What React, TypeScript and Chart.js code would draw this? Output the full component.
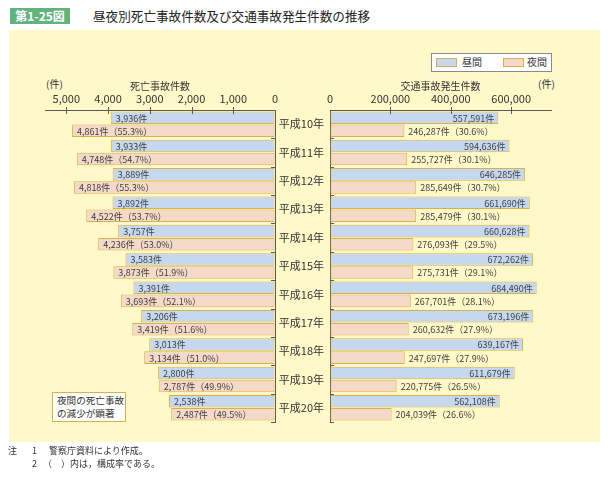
import React, { useEffect, useRef } from 'react';
import { Chart, registerables } from 'chart.js';

Chart.register(...registerables);

// ---- data ----
const years = ['平成10年', '平成11年', '平成12年', '平成13年', '平成14年', '平成15年', '平成16年', '平成17年', '平成18年', '平成19年', '平成20年'];
const deathDay = [3936, 3933, 3889, 3892, 3757, 3583, 3391, 3206, 3013, 2800, 2538];
const deathNight = [4861, 4748, 4818, 4522, 4236, 3873, 3693, 3419, 3134, 2787, 2487];
const deathNightPct = ['55.3', '54.7', '55.3', '53.7', '53.0', '51.9', '52.1', '51.6', '51.0', '49.9', '49.5'];
const accDay = [557591, 594636, 646285, 661690, 660628, 672262, 684490, 673196, 639167, 611679, 562108];
const accNight = [246287, 255727, 285649, 285479, 276093, 275731, 267701, 260632, 247697, 220775, 204039];
const accNightPct = ['30.6', '30.1', '30.7', '30.1', '29.5', '29.1', '28.1', '27.9', '27.9', '26.5', '26.6'];
const deathTicks = [0, 1000, 2000, 3000, 4000, 5000];
const accTicks = [0, 200000, 400000, 600000];
const seriesNames = ['昼間', '夜間'];

const FONT = "'Noto Sans CJK JP', 'Noto Sans', sans-serif";
const BLUE = '#C6D8F0';
const PINK = '#F5D9C9';
const GOLD = '#D8B14C';
const TEXT = '#333333';
const AXIS = '#5a5a5a';

const fmt = (n: number) => n.toLocaleString('en-US');

function makeLabelPlugin(side: 'left' | 'right', day: number[], night: number[], pct: string[]) {
  return {
    id: 'barLabels' + side,
    afterDatasetsDraw(chart: any) {
      const ctx = chart.ctx;
      ctx.save();
      ctx.font = `9px ${FONT}`;
      ctx.fillStyle = '#404040';
      ctx.textBaseline = 'middle';
      [0, 1].forEach((di) => {
        const meta = chart.getDatasetMeta(di);
        meta.data.forEach((el: any, i: number) => {
          const p = el.getProps(['x', 'y', 'base'], true);
          const lo = Math.min(p.x, p.base);
          const hi = Math.max(p.x, p.base);
          const text = di === 0 ? `${fmt(day[i])}件` : `${fmt(night[i])}件（${pct[i]}%）`;
          if (side === 'left') {
            ctx.textAlign = 'left';
            ctx.fillText(text, lo + 5, p.y + 0.5);
          } else if (di === 0) {
            ctx.textAlign = 'right';
            ctx.fillText(text, hi - 4, p.y + 0.5);
          } else {
            ctx.textAlign = 'left';
            ctx.fillText(text, hi + 4, p.y + 0.5);
          }
        });
      });
      ctx.restore();
    },
  };
}

function makeAxisDeco(side: 'left' | 'right') {
  return {
    id: 'axisDeco' + side,
    afterDraw(chart: any) {
      const { ctx, chartArea } = chart;
      const xs = chart.scales.x;
      const ys = chart.scales.y;
      ctx.save();
      ctx.strokeStyle = AXIS;
      ctx.lineWidth = 1;
      xs.ticks.forEach((t: any) => {
        if (t.value === 0) return;
        const px = Math.round(xs.getPixelForValue(t.value)) + 0.5;
        ctx.beginPath();
        ctx.moveTo(px, chartArea.top - 3);
        ctx.lineTo(px, chartArea.top + 4);
        ctx.stroke();
      });
      const n = years.length;
      for (let i = 1; i <= n; i++) {
        const py = Math.round(ys.getPixelForValue(i - 0.5)) + 0.5;
        ctx.beginPath();
        if (side === 'left') {
          ctx.moveTo(chartArea.right - 4, py);
          ctx.lineTo(chartArea.right, py);
        } else {
          ctx.moveTo(chartArea.left, py);
          ctx.lineTo(chartArea.left + 4, py);
        }
        ctx.stroke();
      }
      ctx.restore();
    },
  };
}

function datasets(day: number[], night: number[]) {
  const common = {
    borderColor: GOLD,
    borderWidth: 1,
    borderSkipped: false as any,
    categoryPercentage: 0.92,
    barPercentage: 0.96,
  };
  return [
    { label: seriesNames[0], data: day, backgroundColor: BLUE, ...common },
    { label: seriesNames[1], data: night, backgroundColor: PINK, ...common },
  ];
}

function xAxis(title: string, max: number, reverse: boolean, tickVals: number[]) {
  return {
    position: 'top',
    reverse,
    min: 0,
    max,
    afterFit: (s: any) => { s.height = 34; },
    afterBuildTicks: (s: any) => { s.ticks = tickVals.map((v) => ({ value: v })); },
    ticks: {
      includeBounds: false,
      padding: 5,
      color: TEXT,
      font: { family: FONT, size: 11 },
      callback: (v: any) => fmt(Number(v)),
    },
    grid: { display: true, drawOnChartArea: false, drawTicks: false },
    border: { display: true, color: AXIS, width: 1 },
    title: {
      display: true,
      text: title,
      color: TEXT,
      font: { family: FONT, size: 10 },
      padding: { top: 4, bottom: 0 },
    },
  };
}

function LeftChart() {
  const ref = useRef<HTMLCanvasElement>(null);
  useEffect(() => {
    const chart = new Chart(ref.current as HTMLCanvasElement, {
      type: 'bar',
      data: { labels: years, datasets: datasets(deathDay, deathNight) as any },
      options: {
        indexAxis: 'y',
        responsive: false,
        maintainAspectRatio: false,
        animation: false,
        layout: { padding: { left: 15, right: 10, top: 0, bottom: 34 } },
        plugins: { legend: { display: false }, tooltip: { enabled: false } },
        scales: {
          x: xAxis('死亡事故件数', 5510, true, deathTicks) as any,
          y: {
            position: 'right',
            afterFit: (s: any) => { s.width = 0; },
            ticks: { display: false },
            grid: { display: true, drawOnChartArea: false, drawTicks: false },
            border: { display: true, color: AXIS, width: 1 },
          } as any,
        },
      },
      plugins: [makeLabelPlugin('left', deathDay, deathNight, deathNightPct), makeAxisDeco('left')],
    });
    return () => chart.destroy();
  }, []);
  return <canvas ref={ref} width={255} height={380} style={{ position: 'absolute', left: 30, top: 76, width: 255, height: 380 }} />;
}

function RightChart() {
  const ref = useRef<HTMLCanvasElement>(null);
  useEffect(() => {
    const chart = new Chart(ref.current as HTMLCanvasElement, {
      type: 'bar',
      data: { labels: years, datasets: datasets(accDay, accNight) as any },
      options: {
        indexAxis: 'y',
        responsive: false,
        maintainAspectRatio: false,
        animation: false,
        layout: { padding: { left: 0, right: 27, top: 0, bottom: 34 } },
        plugins: { legend: { display: false }, tooltip: { enabled: false } },
        scales: {
          x: xAxis('交通事故発生件数', 732000, false, accTicks) as any,
          y: {
            position: 'left',
            afterFit: (s: any) => { s.width = 52; },
            ticks: { padding: 6, color: TEXT, font: { family: FONT, size: 11 } },
            grid: { display: true, drawOnChartArea: false, drawTicks: false },
            border: { display: true, color: AXIS, width: 1 },
          } as any,
        },
      },
      plugins: [makeLabelPlugin('right', accDay, accNight, accNightPct), makeAxisDeco('right')],
    });
    return () => chart.destroy();
  }, []);
  return <canvas ref={ref} width={300} height={380} style={{ position: 'absolute', left: 278, top: 76, width: 300, height: 380 }} />;
}

const abs = (s: React.CSSProperties): React.CSSProperties => ({ position: 'absolute', ...s });

export default function App() {
  return (
    <div style={abs({ left: 0, top: 0, width: 609, height: 479, background: '#fff', fontFamily: FONT, color: TEXT, overflow: 'hidden' })}>
      <div style={abs({ left: 10, top: 8, width: 60, height: 16, background: '#63B37F', color: '#fff', fontSize: 12, lineHeight: '16px', textAlign: 'center', fontWeight: 'bold' })}>第1-25図</div>
      <div style={abs({ left: 93, top: 7, fontSize: 12.6, lineHeight: '18px', color: '#222', whiteSpace: 'nowrap' })}>昼夜別死亡事故件数及び交通事故発生件数の推移</div>
      <div style={abs({ left: 9, top: 30, width: 591, height: 412, background: '#FFF9C9' })} />
      <div style={abs({ left: 431, top: 53, width: 119, height: 17, background: '#fff', border: '1px solid #8a8a8a' })}>
        <div style={abs({ left: 4, top: 4, width: 19, height: 7, background: BLUE, border: `1px solid ${GOLD}` })} />
        <div style={abs({ left: 30, top: 1, fontSize: 10, lineHeight: '14px', whiteSpace: 'nowrap' })}>{seriesNames[0]}</div>
        <div style={abs({ left: 71, top: 4, width: 19, height: 7, background: PINK, border: `1px solid ${GOLD}` })} />
        <div style={abs({ left: 95, top: 1, fontSize: 10, lineHeight: '14px', whiteSpace: 'nowrap' })}>{seriesNames[1]}</div>
      </div>
      <div style={abs({ left: 46, top: 77, fontSize: 10, lineHeight: '14px' })}>(件)</div>
      <div style={abs({ left: 538, top: 77, fontSize: 10, lineHeight: '14px' })}>(件)</div>
      <LeftChart />
      <RightChart />
      <div style={abs({ left: 52, top: 392, width: 68, height: 27, background: '#fff', border: `1px solid ${GOLD}`, padding: '1px 0 0 4px', fontSize: 9.6, lineHeight: '12.5px', whiteSpace: 'nowrap' })}>
        夜間の死亡事故<br />の減少が顕著
      </div>
      <div style={abs({ left: 8, top: 444, fontSize: 9, lineHeight: '14px', color: '#333', whiteSpace: 'nowrap' })}>注</div>
      <div style={abs({ left: 32, top: 444, fontSize: 9, lineHeight: '14px', color: '#333', whiteSpace: 'nowrap' })}>1</div>
      <div style={abs({ left: 49, top: 444, fontSize: 9, lineHeight: '14px', color: '#333', whiteSpace: 'nowrap' })}>警察庁資料により作成。</div>
      <div style={abs({ left: 32, top: 457, fontSize: 9, lineHeight: '14px', color: '#333', whiteSpace: 'nowrap' })}>2</div>
      <div style={abs({ left: 43, top: 457, fontSize: 9, lineHeight: '14px', color: '#333', whiteSpace: 'nowrap' })}>（　）内は，構成率である。</div>
    </div>
  );
}
